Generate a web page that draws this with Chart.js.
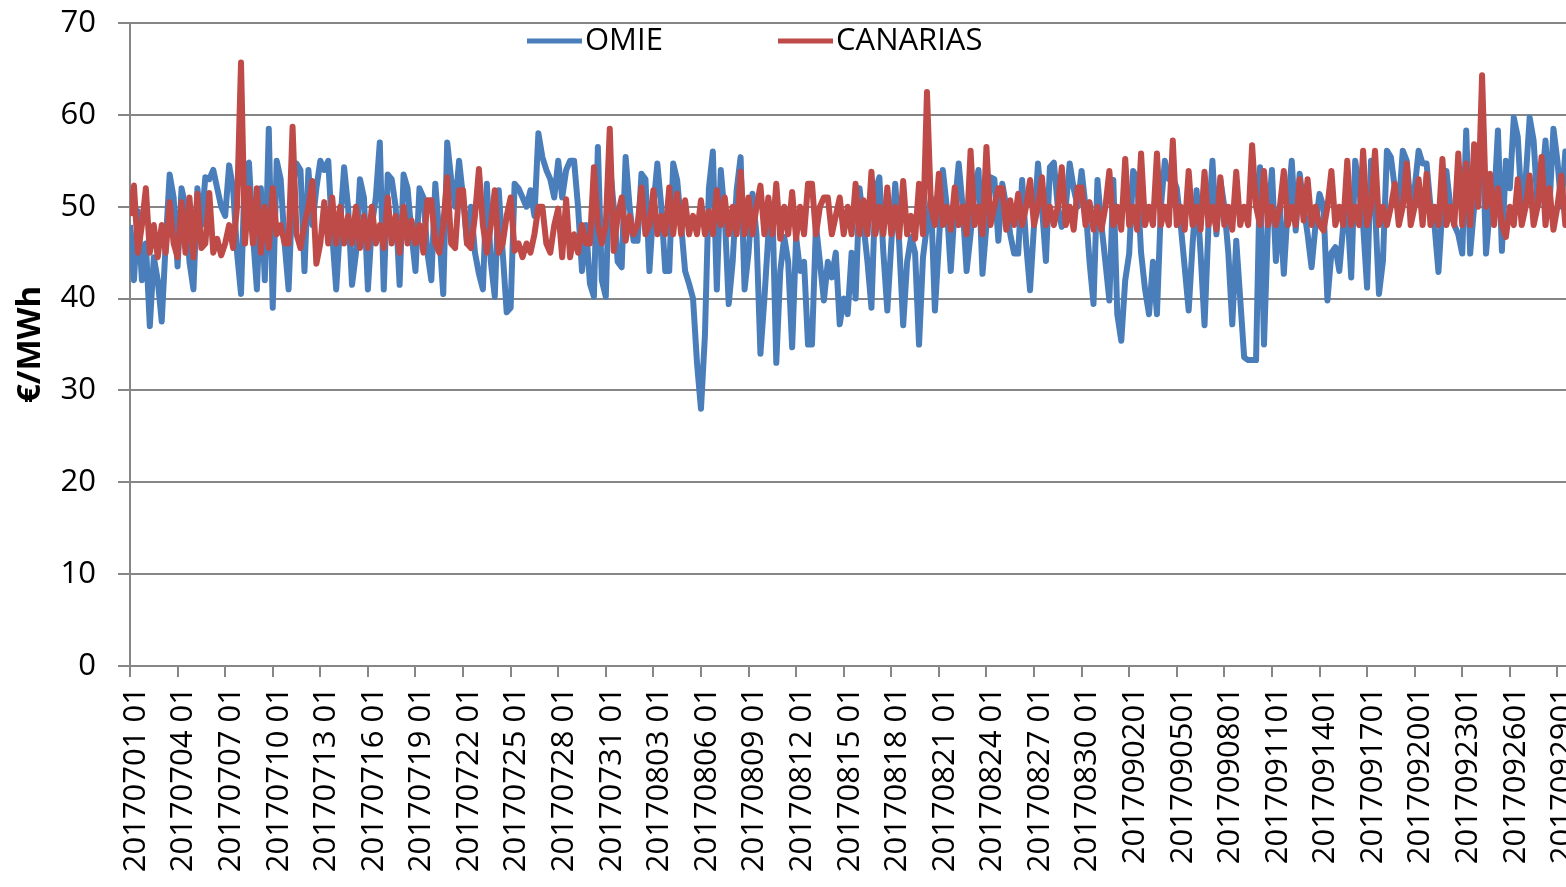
<!DOCTYPE html>
<html>
<head>
<meta charset="utf-8">
<title>OMIE - CANARIAS</title>
<script src="https://cdn.jsdelivr.net/npm/chart.js@4.4.0/dist/chart.umd.min.js"></script>
<style>
html, body { margin: 0; padding: 0; background: #fff; }
</style>
</head>
<body>
<canvas id="grafico" width="1566" height="887"></canvas>
<script>
// etiquetas del eje x (una cada 3 dias, hora 01)
let etiquetas = ["20170701 01", "20170704 01", "20170707 01", "20170710 01", "20170713 01",
  "20170716 01", "20170719 01", "20170722 01", "20170725 01", "20170728 01", "20170731 01",
  "20170803 01", "20170806 01", "20170809 01", "20170812 01", "20170815 01", "20170818 01",
  "20170821 01", "20170824 01", "20170827 01", "20170830 01", "2017090201", "2017090501",
  "2017090801", "2017091101", "2017091401", "2017091701", "2017092001", "2017092301",
  "2017092601", "2017092901"];

let horasPorPunto = 6;   // un valor leido cada 6 horas
let horasPorEtiqueta = 72;

// €/MWh, 4 valores por dia, desde 01/07
let omie = [
  48, 42, 49.5, 42, 46, 37, 44.5, 42, 37.5, 46, 53.5, 51,
  43.5, 52, 50, 44, 41, 52, 48, 53.2, 53, 54, 52, 50,
  49, 54.5, 52, 45, 40.5, 54.5, 54.8, 47, 41, 52, 42, 58.5,
  39, 55, 53, 46, 41, 52, 54.7, 54, 43, 54, 48, 52,
  55, 54, 55, 47, 41, 48, 54.3, 50, 41.5, 45, 53, 51,
  41, 48, 51, 57, 41, 53.5, 53, 50, 41.5, 53.5, 52, 47,
  43, 52, 51, 45, 42, 52.5, 47, 40.5, 57, 53, 50, 55,
  51, 46, 50, 45, 42.7, 41, 52.5, 44, 40.2, 51.8, 45, 38.5,
  39, 52.5, 52, 51, 50, 51.8, 49, 58, 55.4, 54, 53, 51,
  55, 51, 54, 55, 55, 50, 43, 48, 41.6, 40.2, 56.5, 42,
  40.2, 54.7, 50, 44, 43.4, 55.4, 50, 46.3, 46.3, 53.6, 53, 43,
  50, 54.7, 50, 43, 43, 54.7, 52.9, 48, 43, 41.6, 40, 33,
  28, 36, 52, 56, 41, 54, 49, 39.4, 44, 51.8, 55.4, 41,
  45, 51.4, 47, 34, 40, 47, 50.3, 33, 43, 46.7, 44, 34.7,
  46.7, 43, 44, 35, 35, 48, 44, 39.8, 44, 42.3, 45, 37.2,
  40, 38.3, 45, 40, 52, 48, 44, 39, 51.8, 53.2, 45, 38.7,
  46, 52.5, 46, 37.1, 44, 46.7, 45, 35, 44.5, 48, 51, 38.7,
  46, 54, 50, 43, 50, 54.7, 50, 43, 47, 52, 54, 42.7,
  48, 53.2, 53, 46.3, 52.5, 50, 47, 44.9, 44.9, 52.9, 46, 40.9,
  48, 54.7, 50, 44.1, 54.3, 54.8, 50, 47.8, 50, 54.7, 52, 50,
  53.9, 50, 44, 39.4, 52.9, 48, 44, 39.8, 52.9, 38.3, 35.4, 42,
  44.9, 53.9, 53, 45, 41, 38.3, 44, 38.3, 50, 55, 53, 53.2,
  52, 48, 43.4, 38.7, 46, 51.8, 45, 37.1, 48, 55, 47, 52.9,
  50, 45, 37.2, 46.3, 40, 33.6, 33.3, 33.3, 33.3, 54.3, 35, 48,
  54, 44.1, 50, 42.7, 50, 55, 47.4, 53.6, 50, 47, 43.4, 48,
  51.4, 50, 39.8, 45, 45.6, 43, 48, 50, 42.3, 55, 52, 48,
  41.2, 55, 50, 40.5, 44.1, 56.1, 55.4, 52, 50, 56.1, 55, 50,
  52, 56.1, 54.7, 54.7, 50, 48, 42.9, 50, 53.9, 50, 48, 47,
  44.9, 58.3, 44.9, 50, 52, 59, 44.9, 50, 50, 58.3, 45.2, 55,
  52, 59.7, 57.6, 50, 53, 59.7, 57.2, 50, 52, 57.2, 50, 58.5,
  55, 50, 56, 52
];

let canarias = [
  49, 52.3, 45, 48, 52, 45, 48, 44.5, 48, 45, 50.5, 46,
  44.5, 50.5, 45, 51, 44.5, 51.4, 45.5, 46, 51.5, 45, 46.5, 44.7,
  46, 48, 45.5, 50, 65.7, 46, 52, 46, 52, 45, 50, 45.5,
  52, 47, 48, 46, 46, 58.7, 47, 45.5, 48, 50, 52.8, 43.8,
  46, 50.5, 46, 51, 46, 50, 46, 49, 46, 50, 45.5, 49,
  45.5, 50, 46, 48, 45.5, 51, 46, 49, 45, 50, 46, 48.5,
  46, 48, 45, 50.7, 50.7, 46, 45, 48, 53.2, 46, 45.5, 51.8,
  51.8, 46, 45.5, 49, 54.1, 48, 45, 48, 51.8, 45, 46, 49,
  51, 45.2, 46, 44.5, 46, 45, 47, 50, 50, 46, 45, 48,
  49.8, 44.5, 50.8, 44.5, 47, 45, 48, 46, 46, 54.3, 48, 46,
  48, 58.5, 45.2, 49, 51, 46.3, 49, 47, 48, 52.1, 47, 48,
  51.8, 47, 49, 47, 52.1, 47, 51.4, 47, 50.7, 47, 49, 47,
  50.7, 47, 49.5, 47, 51.8, 48, 51, 47, 50, 47, 53.8, 47,
  51, 47, 50, 52.3, 47, 51, 47, 52.5, 46.5, 50, 47, 51.6,
  46.5, 50, 47, 52.5, 52.5, 47, 50, 51, 51, 47, 49, 51,
  47, 50, 47, 52.5, 47, 50.7, 47, 53.8, 47, 50, 47, 52.1,
  47, 50, 46.7, 52.8, 47, 49, 46.5, 52.5, 47, 62.5, 50, 48,
  53.6, 48, 50, 47.5, 52.1, 48, 50, 47, 56.1, 48, 50, 47,
  56.5, 48, 50, 52, 52, 47.5, 50.7, 48, 51.4, 48, 50, 52.9,
  48, 50, 53.2, 48, 50, 48, 50, 54.3, 48, 50, 47.5, 52.1,
  52.1, 48, 50.5, 47.5, 50, 47.5, 50, 53.9, 48, 50, 47.5, 55.2,
  48, 50, 47.5, 55.8, 48, 50, 48, 55.8, 48, 50, 48, 57.2,
  48, 50, 47.5, 53.9, 48, 50, 47.5, 53.8, 48, 50, 47.5, 53.2,
  48, 50, 47.5, 53.8, 48, 50, 48, 56.7, 50, 48, 53.9, 48,
  50, 48, 50, 53.9, 48, 50, 48, 53, 48.5, 53, 48, 50,
  48, 47.4, 50, 53.9, 48, 50, 48, 55, 48, 50, 48, 56.1,
  48, 50, 56.1, 48, 50, 48, 50, 52.5, 48, 50, 54.7, 48,
  50, 53, 48, 53.6, 48, 50, 48, 55.2, 48, 50, 48, 55.8,
  48, 54.7, 48, 56.8, 50, 64.3, 50, 53.6, 48, 52, 48, 46.7,
  50, 48, 53, 48, 50, 53.4, 48, 50, 55.4, 48, 52, 47.5,
  50, 53.4, 48, 50
];

let fuente = '"Open Sans", sans-serif';
let gris = '#868686';

function puntos(serie) {
  return serie.map((v, i) => ({ x: i * horasPorPunto, y: v }));
}

// leyenda dentro del area del grafico, como en el original
const leyenda = {
  id: 'leyenda',
  afterDraw(chart) {
    const ctx = chart.ctx;
    const xs = [527, 778];
    const y = 41;
    ctx.save();
    ctx.font = '31px ' + fuente;
    ctx.textBaseline = 'middle';
    chart.data.datasets.forEach((ds, i) => {
      ctx.strokeStyle = ds.borderColor;
      ctx.lineWidth = 5;
      ctx.beginPath();
      ctx.moveTo(xs[i], y);
      ctx.lineTo(xs[i] + 55, y);
      ctx.stroke();
      ctx.fillStyle = '#000';
      ctx.fillText(ds.label, xs[i] + 58, y);
    });
    ctx.restore();
  }
};

new Chart(document.getElementById("grafico"), {
  type: 'line',
  data: {
    datasets: [
      {
        label: "OMIE",
        data: puntos(omie),
        borderColor: "#4A7EBB",
        backgroundColor: "#4A7EBB",
        borderWidth: 6,
        pointRadius: 0,
        borderJoinStyle: 'round',
        tension: 0,
        order: 1
      },
      {
        label: "CANARIAS",
        data: puntos(canarias),
        borderColor: "#BE4B48",
        backgroundColor: "#BE4B48",
        borderWidth: 6,
        pointRadius: 0,
        borderJoinStyle: 'round',
        tension: 0,
        order: 0
      }
    ]
  },
  options: {
    responsive: false,
    animation: false,
    layout: { padding: { top: 23, right: 0, bottom: 0, left: 0 } },
    plugins: {
      legend: { display: false },
      tooltip: { enabled: false }
    },
    scales: {
      x: {
        type: 'linear',
        min: 0,
        max: 2173,
        afterBuildTicks: axis => {
          axis.ticks = etiquetas.map((e, i) => ({ value: i * horasPorEtiqueta }));
        },
        afterFit: axis => {
          axis.height = 221;
          axis.paddingLeft = 0;
          axis.paddingRight = 0;
        },
        ticks: {
          autoSkip: false,
          minRotation: 90,
          maxRotation: 90,
          padding: 10,
          labelOffset: 6,
          color: '#000',
          font: { family: fuente, size: 31 },
          callback: (v, i) => etiquetas[i]
        },
        grid: { drawOnChartArea: false, tickLength: 11, color: gris, lineWidth: 2 },
        border: { color: gris, width: 2 }
      },
      y: {
        min: 0,
        max: 70,
        afterFit: axis => {
          axis.width = 130;
          axis.paddingTop = 0;
          axis.paddingBottom = 0;
        },
        ticks: {
          stepSize: 10,
          padding: 22,
          color: '#000',
          font: { family: fuente, size: 31 }
        },
        grid: { color: gris, lineWidth: 2, tickLength: 12 },
        border: { color: gris, width: 2 },
        title: {
          display: true,
          text: '€/MWh',
          color: '#000',
          font: { family: fuente, size: 33, weight: 'bold' },
          padding: { top: 11, bottom: 0 }
        }
      }
    }
  },
  plugins: [leyenda]
});
</script>
</body>
</html>
